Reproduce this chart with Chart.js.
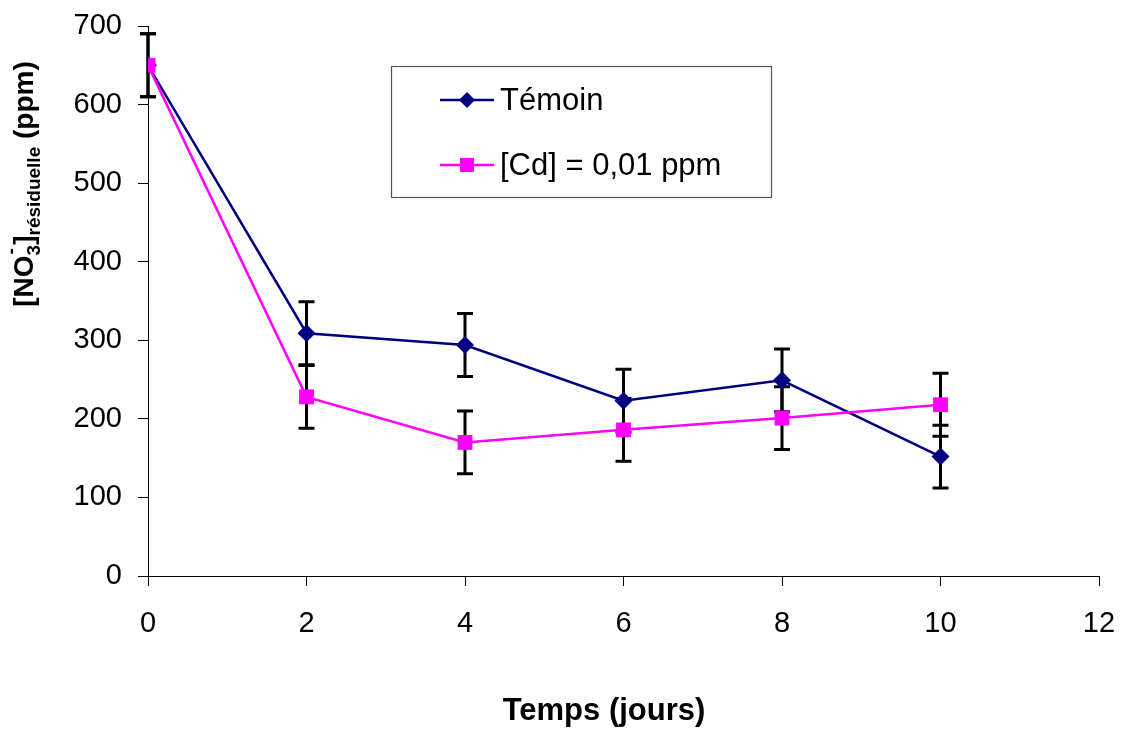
<!DOCTYPE html>
<html>
<head>
<meta charset="utf-8">
<script src="https://cdn.jsdelivr.net/npm/chart.js@4/dist/chart.umd.min.js"></script>
<style>
  html, body { margin: 0; padding: 0; background: #fff; }
  #wrap { width: 1125px; height: 729px; position: relative; }
</style>
</head>
<body>
<div id="wrap"><canvas id="nitrateChart"></canvas></div>
<script>
const days = [0, 2, 4, 6, 8, 10];
const temoin = [650, 309, 294, 223, 249, 152];
const cadmium = [650, 228, 170, 186, 201, 218];
const temoinErr = [40, 40, 40, 40, 40, 40];
const cadmiumErr = [40, 40, 40, 40, 40, 40];
const seriesNames = ["Témoin", "[Cd] = 0,01 ppm"];
const xTicks = [0, 2, 4, 6, 8, 10, 12];
const yTicks = [0, 100, 200, 300, 400, 500, 600, 700];

const FONT = "'Liberation Sans', Arial, sans-serif";
const NAVY = "#000080";
const PINK = "#FF00FF";

function pts(ys) {
  return days.map((d, i) => ({ x: d, y: ys[i] }));
}

// vertical error bars with caps, drawn under the markers
const errorBars = {
  id: 'errorBars',
  beforeDatasetsDraw(chart) {
    const { ctx, scales: { x, y } } = chart;
    const errs = [temoinErr, cadmiumErr];
    ctx.save();
    ctx.strokeStyle = '#000';
    ctx.lineWidth = 3;
    chart.data.datasets.forEach((ds, k) => {
      ds.data.forEach((p, i) => {
        const px = x.getPixelForValue(p.x);
        const top = y.getPixelForValue(p.y + errs[k][i]);
        const bot = y.getPixelForValue(p.y - errs[k][i]);
        ctx.beginPath();
        ctx.moveTo(px, top); ctx.lineTo(px, bot);
        ctx.moveTo(px - 8, top); ctx.lineTo(px + 8, top);
        ctx.moveTo(px - 8, bot); ctx.lineTo(px + 8, bot);
        ctx.stroke();
      });
    });
    ctx.restore();
  }
};

// axis titles and the boxed legend
const decorations = {
  id: 'decorations',
  afterDraw(chart) {
    const ctx = chart.ctx;
    ctx.save();
    ctx.fillStyle = '#000';

    // x title
    ctx.font = "bold 31px " + FONT;
    ctx.textAlign = 'center';
    ctx.textBaseline = 'alphabetic';
    ctx.fillText("Temps (jours)", 604, 720);

    // y title with sub/superscripts, rotated
    const big = "bold 28px " + FONT;
    const small = "bold 19px " + FONT;
    const parts = [
      { t: "[NO", f: big, dy: 0 },
      { t: "3", f: small, dy: 7, sup: "-" },
      { t: "]", f: big, dy: 0 },
      { t: "résiduelle", f: small, dy: 7 },
      { t: " (ppm)", f: big, dy: 0 }
    ];
    let total = 0;
    parts.forEach(p => { ctx.font = p.f; p.w = ctx.measureText(p.t).width; total += p.w; });
    ctx.translate(33, 184 + total / 2);
    ctx.rotate(-Math.PI / 2);
    ctx.textAlign = 'left';
    let u = 0;
    parts.forEach(p => {
      ctx.font = p.f;
      ctx.fillText(p.t, u, p.dy);
      if (p.sup) ctx.fillText(p.sup, u + 1, -16);
      u += p.w;
    });
    ctx.setTransform(1, 0, 0, 1, 0, 0);

    // legend
    ctx.strokeStyle = '#555';
    ctx.lineWidth = 1.2;
    ctx.strokeRect(391.5, 66.5, 380, 131);
    const rows = [
      { name: seriesNames[0], color: NAVY, y: 100, shape: 'diamond' },
      { name: seriesNames[1], color: PINK, y: 165, shape: 'square' }
    ];
    ctx.font = "31px " + FONT;
    ctx.textBaseline = 'middle';
    rows.forEach(r => {
      ctx.strokeStyle = r.color;
      ctx.fillStyle = r.color;
      ctx.lineWidth = 2.5;
      ctx.beginPath();
      ctx.moveTo(440, r.y); ctx.lineTo(494, r.y);
      ctx.stroke();
      ctx.beginPath();
      if (r.shape === 'diamond') {
        ctx.moveTo(467, r.y - 8); ctx.lineTo(475, r.y);
        ctx.lineTo(467, r.y + 8); ctx.lineTo(459, r.y);
        ctx.closePath(); ctx.fill();
      } else {
        ctx.fillRect(460, r.y - 7, 14, 14);
      }
      ctx.fillStyle = '#000';
      ctx.fillText(r.name, 500, r.y + 1);
    });
    ctx.restore();
  }
};

new Chart(document.getElementById('nitrateChart'), {
  type: 'line',
  data: {
    datasets: [
      {
        label: seriesNames[0],
        data: pts(temoin),
        borderColor: NAVY,
        backgroundColor: NAVY,
        borderWidth: 2.5,
        pointStyle: 'rectRot',
        pointRadius: 9,
        pointBorderWidth: 0,
        tension: 0,
        order: 1
      },
      {
        label: seriesNames[1],
        data: pts(cadmium),
        borderColor: PINK,
        backgroundColor: PINK,
        borderWidth: 2.5,
        pointStyle: 'rect',
        pointRadius: 10.5,
        pointBorderWidth: 0,
        tension: 0,
        order: 0
      }
    ]
  },
  options: {
    responsive: true,
    maintainAspectRatio: false,
    animation: false,
    layout: { padding: { left: 0, top: 26, right: 26, bottom: 0 } },
    plugins: {
      legend: { display: false },
      tooltip: { enabled: false }
    },
    scales: {
      x: {
        type: 'linear',
        min: 0,
        max: 12,
        afterBuildTicks: s => { s.ticks = xTicks.map(v => ({ value: v })); },
        afterFit: s => {
          s.height = 153;
          s.paddingLeft = 0;
          s.paddingRight = 0;
        },
        grid: {
          display: true,
          drawOnChartArea: false,
          drawTicks: true,
          tickLength: 10,
          color: '#000',
          lineWidth: 1
        },
        border: { color: '#000', width: 1 },
        ticks: {
          color: '#000',
          font: { family: FONT, size: 29 },
          padding: 21,
          maxRotation: 0
        }
      },
      y: {
        min: 0,
        max: 700,
        afterBuildTicks: s => { s.ticks = yTicks.map(v => ({ value: v })); },
        afterFit: s => {
          s.width = 148;
          s.paddingTop = 0;
          s.paddingBottom = 0;
        },
        grid: {
          display: true,
          drawOnChartArea: false,
          drawTicks: true,
          tickLength: 10,
          color: '#000',
          lineWidth: 1
        },
        border: { color: '#000', width: 1 },
        ticks: {
          color: '#000',
          font: { family: FONT, size: 29 },
          padding: 16
        }
      }
    }
  },
  plugins: [errorBars, decorations]
});
</script>
</body>
</html>
